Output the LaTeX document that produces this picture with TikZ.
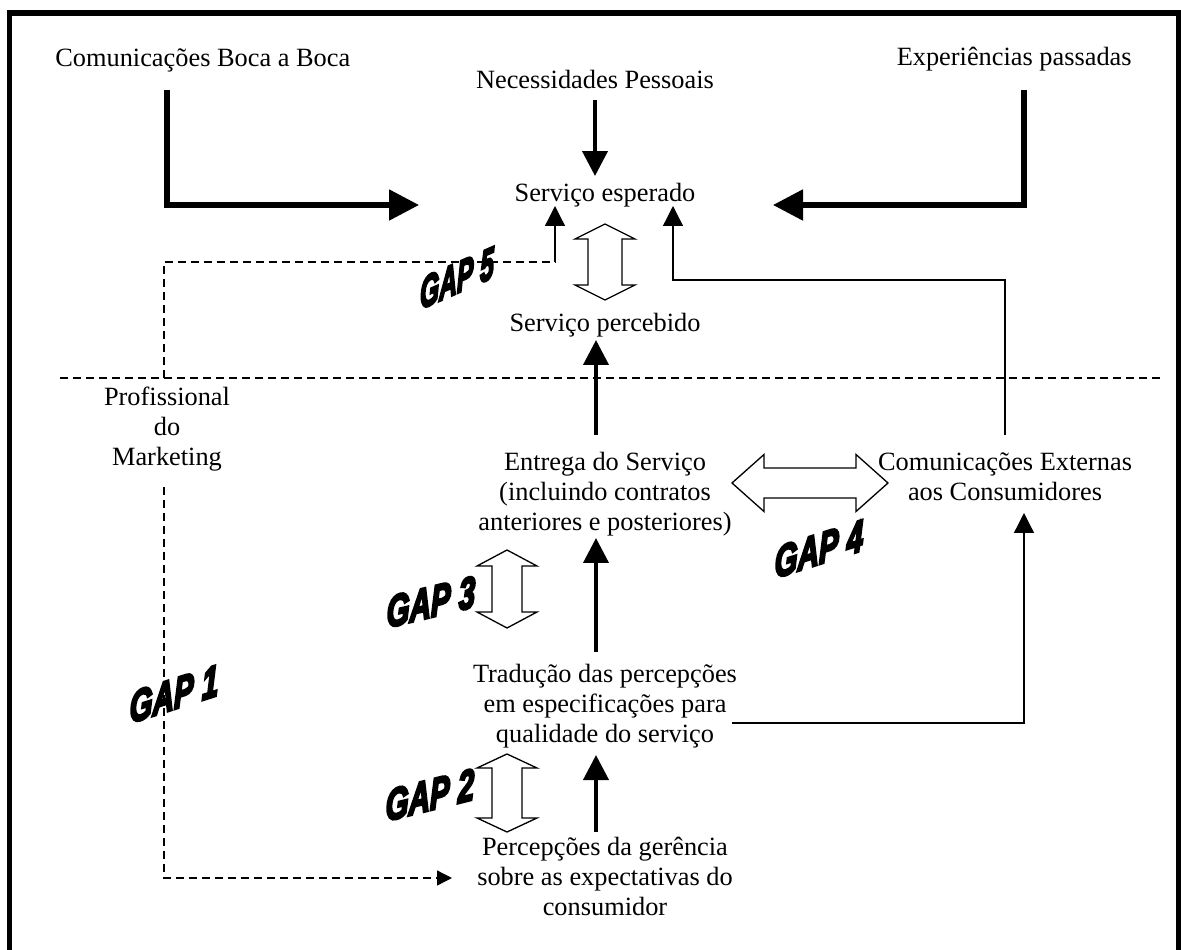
\documentclass[tikz,border=0pt]{standalone}
\usepackage{fontspec}
\setmainfont{Liberation Serif}
\newfontfamily\gapfont{Liberation Sans}[UprightFont=* Bold Italic, FakeBold=6]
\usetikzlibrary{arrows.meta}

\tikzset{
  txt/.style={font=\fontsize{15}{17.25}\selectfont, inner sep=0pt, anchor=base},
  bigarrow/.style={line width=3pt, line join=miter, -{Triangle[length=0.6cm,width=0.6cm]}},
  midarrow/.style={line width=2.3pt, -{Triangle[length=0.5cm,width=0.5cm]}},
  thinarrow/.style={line width=0.75pt, -{Triangle[length=0.4cm,width=0.4cm]}},
  dashline/.style={line width=0.75pt, dash pattern=on 0.16cm off 0.1cm},
  hollow/.style={draw, line width=0.75pt, fill=white, line join=miter},
  gaplabel/.style={font=\gapfont\fontsize{14}{14}\selectfont, inner sep=0pt}
}

\begin{document}
\begin{tikzpicture}[x=0.02cm, y=-0.02cm]
\useasboundingbox (0,0) rectangle (1181,950);

% outer frame (open at the bottom)
\draw[line width=3pt] (9.3,960) -- (9.3,13) -- (1178.5,13) -- (1178.5,960);

% customer / provider divide
\coordinate (divL) at (60,378);
\coordinate (divR) at (1160,378);
\draw[dashline] (divL) -- (divR);

% ---------- texts ----------
\node[txt, anchor=base west] (cbb) at (55,66.5) {Comunicações Boca a Boca};
\node[txt] (nec) at (595,88) {Necessidades Pessoais};
\node[txt, anchor=base east] (exp) at (1132,65.5) {Experiências passadas};

\node[txt] (esp) at (605,201) {Serviço esperado};
\node[txt] (perc) at (605,331) {Serviço percebido};

\node[txt] (prof1) at (167,405) {Profissional};
\node[txt] (prof2) at (167,435.4) {do};
\node[txt] (prof3) at (167,465.8) {Marketing};

\node[txt] (ent1) at (605,470) {Entrega do Serviço};
\node[txt] (ent2) at (605,500.4) {(incluindo contratos};
\node[txt] (ent3) at (605,530.8) {anteriores e posteriores)};

\node[txt] (ext1) at (1005,470) {Comunicações Externas};
\node[txt] (ext2) at (1005,500.4) {aos Consumidores};

\node[txt] (tra1) at (605,682) {Tradução das percepções};
\node[txt] (tra2) at (605,712.4) {em especificações para};
\node[txt] (tra3) at (605,742.8) {qualidade do serviço};

\node[txt] (ger1) at (605,855) {Percepções da gerência};
\node[txt] (ger2) at (605,885.4) {sobre as expectativas do};
\node[txt] (ger3) at (605,915.8) {consumidor};

% ---------- heavy arrows into the expected service ----------
\coordinate (cbbDown) at (167,90);
\coordinate (cbbTip) at (419,205);
\draw[bigarrow] (cbbDown) |- (cbbTip);

\coordinate (expDown) at (1024,90);
\coordinate (expTip) at (773,205);
\draw[bigarrow] (expDown) |- (expTip);

\coordinate (necDown) at (595,100);
\coordinate (necTip) at (595,176);
\draw[midarrow] (necDown) -- (necTip);

% ---------- vertical chain ----------
\coordinate (c1a) at (596,435); \coordinate (c1b) at (596,340);
\draw[midarrow] (c1a) -- (c1b);
\coordinate (c2a) at (596,652); \coordinate (c2b) at (596,538);
\draw[midarrow] (c2a) -- (c2b);
\coordinate (c3a) at (596,832); \coordinate (c3b) at (596,755);
\draw[midarrow] (c3a) -- (c3b);

% ---------- thin connectors ----------
% gap 5: perceived vs expected
\coordinate (g5a) at (164,378);
\coordinate (g5b) at (555,262);
\coordinate (g5tip) at (555,206);
\draw[dashline] (g5a) |- (g5b);
\draw[thinarrow] (g5b) -- (g5tip);

% external communications feed the expectation
\coordinate (extUp) at (1005,435);
\coordinate (extBend) at (673,280);
\coordinate (extTip) at (673,206);
\draw[thinarrow] (extUp) |- (extBend) -- (extTip);

% specifications feed external communications
\coordinate (traOut) at (732,723);
\coordinate (traTip) at (1024,513);
\draw[thinarrow] (traOut) -| (traTip);

% gap 1: marketing to management perceptions
\coordinate (mktDown) at (164,487);
\coordinate (mktTip) at (452,878);
\draw[dashline, -{Triangle[length=0.3cm,width=0.3cm]}] (mktDown) |- (mktTip);

% ---------- hollow double arrows ----------
% gap 5
\draw[hollow] (605,224) -- (635,239) -- (622,239) -- (622,285) -- (635,285) -- (605,300)
  -- (575,285) -- (588,285) -- (588,239) -- (575,239) -- cycle;
% gap 3
\draw[hollow] (507,550) -- (537,566) -- (522,566) -- (522,612) -- (537,612) -- (507,628)
  -- (477,612) -- (492,612) -- (492,566) -- (477,566) -- cycle;
% gap 2
\draw[hollow] (507,754) -- (537,768) -- (522,768) -- (522,818) -- (537,818) -- (507,832)
  -- (477,818) -- (492,818) -- (492,768) -- (477,768) -- cycle;
% gap 4
\draw[hollow] (732,483) -- (764,454.5) -- (764,468) -- (856,468) -- (856,454.5) -- (888,483)
  -- (856,511.5) -- (856,498) -- (764,498) -- (764,511.5) -- cycle;

% ---------- gap labels ----------
\node[gaplabel, yslant=0.44, xscale=1.0, yscale=1.8] (gap5) at (457,278) {GAP 5};
\node[gaplabel, yslant=0.32, xscale=1.2, yscale=1.8] (gap4) at (819,549) {GAP 4};
\node[gaplabel, yslant=0.24, xscale=1.2, yscale=1.8] (gap3) at (431,602) {GAP 3};
\node[gaplabel, yslant=0.25, xscale=1.2, yscale=1.8] (gap2) at (430,795) {GAP 2};
\node[gaplabel, yslant=0.32, xscale=1.2, yscale=1.8] (gap1) at (174,694) {GAP 1};
\end{tikzpicture}
\end{document}
